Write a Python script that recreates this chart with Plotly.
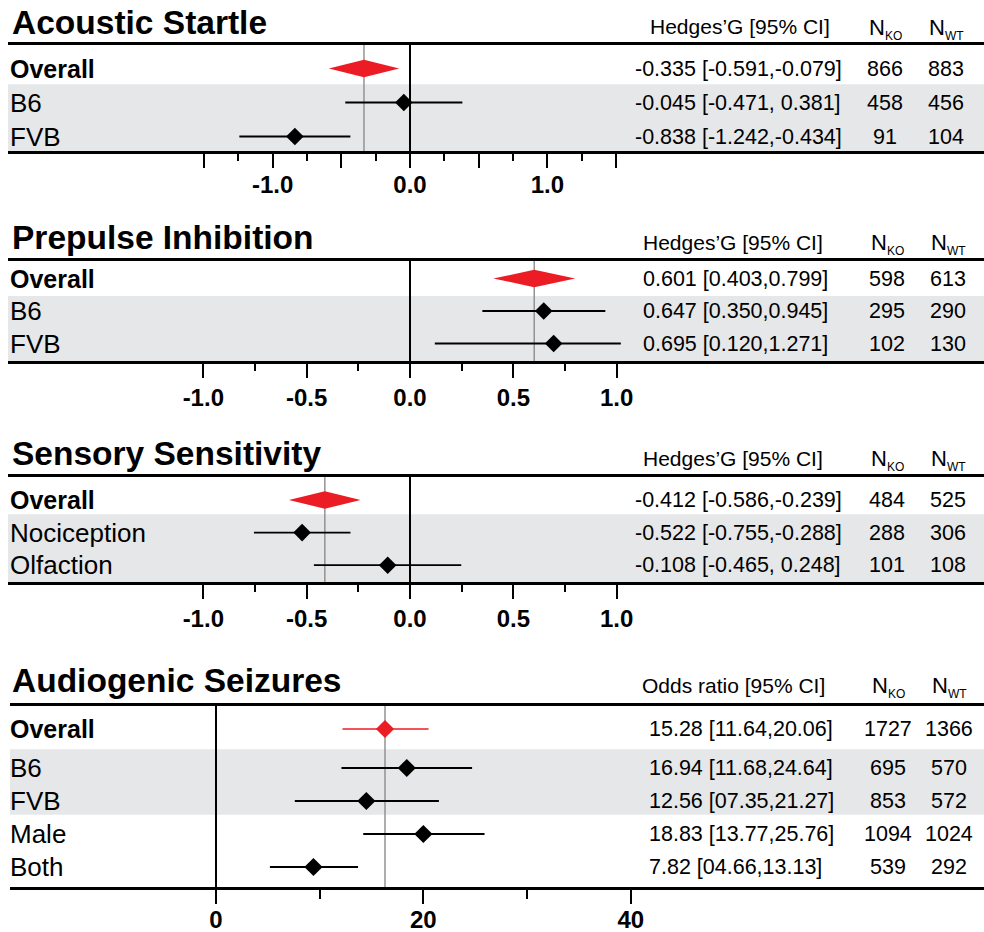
import plotly.graph_objects as go
import numpy as np

# ---------------- data ----------------
as_labels = ["Overall", "B6", "FVB"]
as_est = [-0.335, -0.045, -0.838]
as_lo = [-0.591, -0.471, -1.242]
as_hi = [-0.079, 0.381, -0.434]
as_text = ["-0.335 [-0.591,-0.079]", "-0.045 [-0.471, 0.381]", "-0.838 [-1.242,-0.434]"]
as_nko = [866, 458, 91]
as_nwt = [883, 456, 104]

ppi_labels = ["Overall", "B6", "FVB"]
ppi_est = [0.601, 0.647, 0.695]
ppi_lo = [0.403, 0.350, 0.120]
ppi_hi = [0.799, 0.945, 1.271]
ppi_text = ["0.601 [0.403,0.799]", "0.647 [0.350,0.945]", "0.695 [0.120,1.271]"]
ppi_nko = [598, 295, 102]
ppi_nwt = [613, 290, 130]

ss_labels = ["Overall", "Nociception", "Olfaction"]
ss_est = [-0.412, -0.522, -0.108]
ss_lo = [-0.586, -0.755, -0.465]
ss_hi = [-0.239, -0.288, 0.248]
ss_text = ["-0.412 [-0.586,-0.239]", "-0.522 [-0.755,-0.288]", "-0.108 [-0.465, 0.248]"]
ss_nko = [484, 288, 101]
ss_nwt = [525, 306, 108]

ags_labels = ["Overall", "B6", "FVB", "Male", "Both"]
ags_est = [16.3, 18.4, 14.5, 20.0, 9.4]
ags_lo = [12.2, 12.1, 7.6, 14.2, 5.2]
ags_hi = [20.5, 24.7, 21.5, 25.9, 13.7]
ags_text = ["15.28 [11.64,20.06]", "16.94 [11.68,24.64]", "12.56 [07.35,21.27]",
            "18.83 [13.77,25.76]", "7.82 [04.66,13.13]"]
ags_nko = [1727, 695, 853, 1094, 539]
ags_nwt = [1366, 570, 572, 1024, 292]

g_major = [-1.5, -1.0, -0.5, 0.0, 0.5, 1.0, 1.5]
g_major_text = ["", "-1.0", "", "0.0", "", "1.0", ""]
g_minor = [-1.25, -0.75, -0.25, 0.25, 0.75, 1.25]
g2_major = [-1.0, -0.5, 0.0, 0.5, 1.0]
g2_major_text = ["-1.0", "-0.5", "0.0", "0.5", "1.0"]
g2_minor = [-0.75, -0.25, 0.25, 0.75]
or_major = [0, 20, 40]
or_major_text = ["0", "20", "40"]
or_minor = [10, 30]

# ---------------- style / layout ----------------
W, H = 984, 932
FONT = "Liberation Sans, Arial, Helvetica, sans-serif"
RED = "#ec1c24"
BAND = "#e6e7e8"
REF = "#8c8c8c"


def pxx(p):
    return p / W


def pxy(p):
    return 1 - p / H


panels = [
    dict(title="Acoustic Startle", header="Hedges\u2019G [95% CI]",
         labels=as_labels, est=as_est, lo=as_lo, hi=as_hi, text=as_text, nko=as_nko, nwt=as_nwt,
         major=g_major, major_text=g_major_text, minor=g_minor, diamond=True,
         top=45, bottom=151, first=68.5, pitch=34, gap=0, zero=410, unit=137.4, left=8,
         title_y=22, head_y=27, val_x=633, head_x=740, nko_x=885, nwt_x=946,
         band=(0.46, None), clip=(-9, 9), standoff=-4, msize=13.5),
    dict(title="Prepulse Inhibition", header="Hedges\u2019G [95% CI]",
         labels=ppi_labels, est=ppi_est, lo=ppi_lo, hi=ppi_hi, text=ppi_text, nko=ppi_nko, nwt=ppi_nwt,
         major=g2_major, major_text=g2_major_text, minor=g2_minor, diamond=True,
         top=260.5, bottom=361, first=278.5, pitch=32.5, gap=0, zero=410, unit=206.7, left=8,
         title_y=238, head_y=242, val_x=641, head_x=733, nko_x=887, nwt_x=948,
         band=(0.54, None), clip=(-1.02, 1.02), standoff=-1, msize=13.5),
    dict(title="Sensory Sensitivity", header="Hedges\u2019G [95% CI]",
         labels=ss_labels, est=ss_est, lo=ss_lo, hi=ss_hi, text=ss_text, nko=ss_nko, nwt=ss_nwt,
         major=g2_major, major_text=g2_major_text, minor=g2_minor, diamond=True,
         top=477, bottom=582, first=500, pitch=32.6, gap=0, zero=410, unit=206.7, left=8,
         title_y=453, head_y=458, val_x=633, head_x=733, nko_x=887, nwt_x=948,
         band=(0.44, None), clip=(-9, 9), standoff=-1, msize=13.5),
    dict(title="Audiogenic Seizures", header="Odds ratio [95% CI]",
         labels=ags_labels, est=ags_est, lo=ags_lo, hi=ags_hi, text=ags_text, nko=ags_nko, nwt=ags_nwt,
         major=or_major, major_text=or_major_text, minor=or_minor, diamond=False,
         top=706, bottom=887, first=729, pitch=33, gap=6, zero=216, unit=10.368, left=10,
         title_y=680, head_y=685, val_x=647, head_x=733, nko_x=888, nwt_x=949,
         band=(0.615, 2.6), clip=(-999, 999), standoff=-5, msize=14),
]

fig = go.Figure()
layout = dict(width=W, height=H, margin=dict(l=0, r=0, t=0, b=0, autoexpand=False),
              paper_bgcolor="white", plot_bgcolor="rgba(0,0,0,0)",
              showlegend=False, font=dict(family=FONT, color="black"))
shapes = []
annotations = []

for i, p in enumerate(panels):
    k = "" if i == 0 else str(i + 1)
    xa, ya = "x" + k, "y" + k
    n = len(p["labels"])
    g = p["gap"] / p["pitch"]
    rows = [0.0] + [r + g for r in range(1, n)]
    top_val = (p["top"] - p["first"]) / p["pitch"]
    bot_val = (p["bottom"] - p["first"]) / p["pitch"]

    layout["xaxis" + k] = dict(
        domain=[pxx(p["left"]), 1], anchor=ya, automargin=False,
        range=[(p["left"] - p["zero"]) / p["unit"], (W - p["zero"]) / p["unit"]],
        showgrid=False, zeroline=True, zerolinecolor="black", zerolinewidth=2,
        showline=True, linecolor="black", linewidth=2.5, mirror=True,
        ticks="outside", ticklen=14, tickwidth=2, tickcolor="black",
        tickmode="array", tickvals=p["major"], ticktext=p["major_text"],
        ticklabelstandoff=p["standoff"],
        tickfont=dict(family=FONT, size=24, color="black", weight="bold"),
        minor=dict(tickmode="array", tickvals=p["minor"], ticks="outside",
                   ticklen=7 if p["diamond"] else 9, tickwidth=2, tickcolor="black",
                   showgrid=False),
        fixedrange=True,
    )
    layout["yaxis" + k] = dict(
        domain=[pxy(p["bottom"]), pxy(p["top"])], anchor=xa, automargin=False,
        range=[bot_val, top_val], visible=False, fixedrange=True,
    )

    # grey band
    b0, b1 = p["band"]
    shapes.append(dict(type="rect", layer="below", xref="paper", yref=ya,
                       x0=pxx(p["left"]), x1=1, y0=b0, y1=bot_val if b1 is None else b1,
                       fillcolor=BAND, line=dict(width=0)))
    # reference line at overall estimate
    shapes.append(dict(type="line", layer="below", xref=xa, yref=ya,
                       x0=p["est"][0], x1=p["est"][0], y0=top_val, y1=bot_val,
                       line=dict(color=REF, width=1.4)))

    est = np.array(p["est"])
    lo = np.clip(np.array(p["lo"]), p["clip"][0], p["clip"][1])
    hi = np.clip(np.array(p["hi"]), p["clip"][0], p["clip"][1])

    if p["diamond"]:
        h = 8.7 / p["pitch"]
        fig.add_trace(go.Scatter(
            x=[lo[0], est[0], hi[0], est[0], lo[0]], y=[0, -h, 0, h, 0],
            mode="lines", fill="toself", fillcolor=RED, line=dict(width=0, color=RED),
            xaxis=xa, yaxis=ya, hoverinfo="skip"))
    else:
        fig.add_trace(go.Scatter(
            x=[est[0]], y=[0], mode="markers",
            marker=dict(symbol="diamond", size=p["msize"], color=RED),
            error_x=dict(type="data", symmetric=False, array=[hi[0] - est[0]],
                         arrayminus=[est[0] - lo[0]], width=0, thickness=1.6, color=RED),
            xaxis=xa, yaxis=ya))

    fig.add_trace(go.Scatter(
        x=est[1:], y=rows[1:], mode="markers",
        marker=dict(symbol="diamond", size=p["msize"], color="black"),
        error_x=dict(type="data", symmetric=False, array=(hi - est)[1:],
                     arrayminus=(est - lo)[1:], width=0, thickness=1.8, color="black"),
        xaxis=xa, yaxis=ya))

    # title and headers
    annotations.append(dict(text="<b>%s</b>" % p["title"], xref="paper", yref="paper",
                            x=pxx(10), y=pxy(p["title_y"]), xanchor="left", yanchor="middle",
                            showarrow=False, font=dict(size=33.5)))
    annotations.append(dict(text=p["header"], xref="paper", yref="paper",
                            x=pxx(p["head_x"]), y=pxy(p["head_y"]), xanchor="center", yanchor="middle",
                            showarrow=False, font=dict(size=21)))
    for lab, cx in (("KO", p["nko_x"]), ("WT", p["nwt_x"])):
        annotations.append(dict(text="N<sub><span style='font-size:12px'>%s</span></sub>" % lab,
                                xref="paper", yref="paper",
                                x=pxx(cx), y=pxy(p["head_y"] + 2), xanchor="center", yanchor="middle",
                                showarrow=False, font=dict(size=22)))

    for j, r in enumerate(rows):
        lab = p["labels"][j]
        annotations.append(dict(text=("<b>%s</b>" % lab) if j == 0 else lab, xref="paper", yref=ya,
                                x=pxx(8), y=r, xanchor="left", yanchor="middle",
                                showarrow=False, font=dict(size=26 if j else 25)))
        annotations.append(dict(text=p["text"][j], xref="paper", yref=ya,
                                x=pxx(p["val_x"]), y=r, xanchor="left", yanchor="middle",
                                showarrow=False, font=dict(size=21.5)))
        annotations.append(dict(text=str(p["nko"][j]), xref="paper", yref=ya,
                                x=pxx(p["nko_x"]), y=r, xanchor="center", yanchor="middle",
                                showarrow=False, font=dict(size=21.5)))
        annotations.append(dict(text=str(p["nwt"][j]), xref="paper", yref=ya,
                                x=pxx(p["nwt_x"]), y=r, xanchor="center", yanchor="middle",
                                showarrow=False, font=dict(size=21.5)))

layout["shapes"] = shapes
layout["annotations"] = annotations
fig.update_layout(**layout)
fig.write_html("out.html")
